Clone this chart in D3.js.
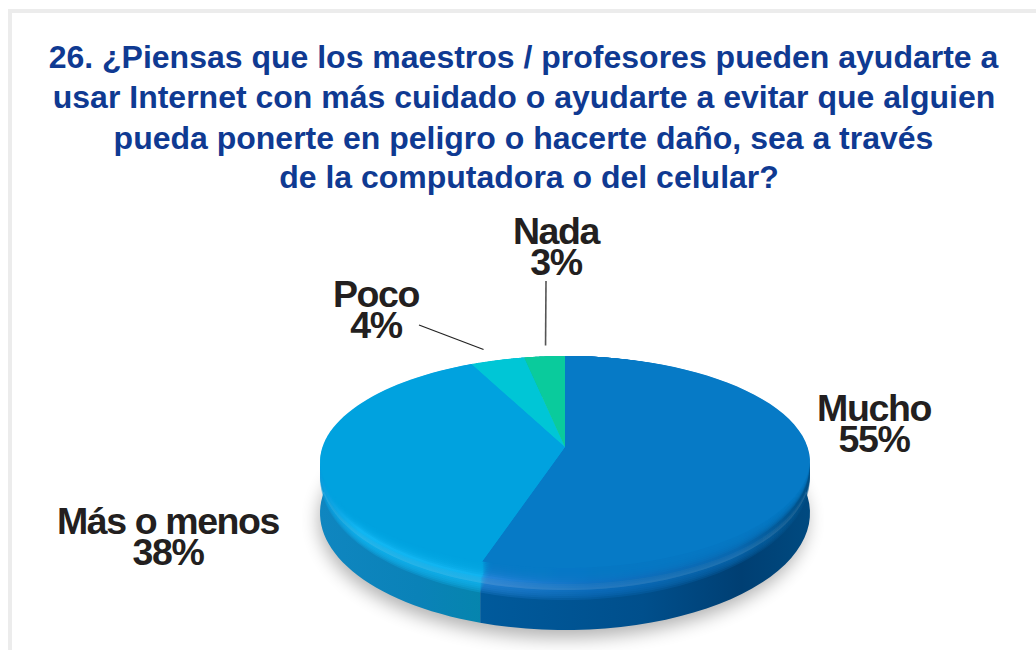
<!DOCTYPE html>
<html><head><meta charset="utf-8">
<script src="https://cdn.jsdelivr.net/npm/d3@7/dist/d3.min.js"></script>
<style>html,body{margin:0;padding:0;background:#fff;overflow:hidden}svg{display:block}</style>
</head><body><svg id="c" width="1036" height="650"></svg>
<script>
const categories = ["Mucho","Más o menos","Poco","Nada"];
const values = [55,38,4,3];
const titleLines = ["26. ¿Piensas que los maestros / profesores pueden ayudarte a","usar Internet con más cuidado o ayudarte a evitar que alguien","pueda ponerte en peligro o hacerte daño, sea a través","de la computadora o del celular?"];

const topColors  = ["#067ac6","#00a2df","#00c6d6","#0acb9c"];
const W=1036,H=650, cx=565, topY=356, botY=590, rx=245, apexY=447, depth=40, faceBot=574;
const labelPos = [
 {x:874,y:421},{x:168,y:534},{x:376,y:307},{x:556,y:244}];
const leaders = {2:{from:[419,325],dx:-14,dy:-11},3:{from:[546,281],dx:1,dy:-11}};

const svg=d3.select("#c");
const defs=svg.append("defs");
defs.append("filter").attr("id","bS").attr("x","-20%").attr("y","-30%").attr("width","140%").attr("height","160%")
  .attr("color-interpolation-filters","sRGB")
  .append("feGaussianBlur").attr("stdDeviation",9);
const grad=(id,stops)=>{const g=defs.append("linearGradient").attr("id",id).attr("gradientUnits","userSpaceOnUse")
  .attr("x1",320).attr("x2",810).attr("y1",0).attr("y2",0);
  stops.forEach(s=>g.append("stop").attr("offset",s[0]).attr("stop-color",s[1]));};
grad("side0",[[0,"#005c9e"],[0.33,"#005a9c"],[0.66,"#004f8c"],[0.86,"#003f73"],[1,"#004a80"]]);
grad("side1",[[0,"#0f86c0"],[0.2,"#0a82b8"],[0.34,"#0585ad"],[1,"#0585ad"]]);
grad("rim0",[[0.3,"#2a88dc"],[0.55,"#0f72c4"],[0.85,"#0868b0"],[1,"#004f86"]]);
grad("rim1",[[0,"#0a9cdc"],[0.08,"#10b6f2"],[0.33,"#12b4f0"],[1,"#12b4f0"]]);

const k=0.12, q=(botY-topY)/(1+(1-k)/(1+k)), b=q*(1-k), y0=botY-q, a=rx*Math.sqrt(1-k*k);
const rim=(t,bot=botY)=>{const u=Math.sin(t),v=-Math.cos(t),d=1-k*v;
  const s=(bot-topY)/(botY-topY);
  return [cx+a*u/d, topY+((y0+b*v/d)-topY)*s];};
const arcs=d3.pie().sort(null).value(d=>d)(values);
const line=d3.line();
const samples=(a0,a1)=>d3.range(0,61).map(i=>a0+(a1-a0)*i/60);
const sidePath=d=>{const ts=samples(d.startAngle,d.endAngle);
   const up=ts.map(t=>rim(t)), lo=ts.map(t=>{const p=rim(t);return [p[0],p[1]+depth];}).reverse();
   return line(up.concat(lo))+"Z";};
const wedgePath=(d,bot=botY,inset=0)=>line([[cx,apexY]].concat(samples(d.startAngle,d.endAngle).map(t=>{
    const p=rim(t,bot); const f=Math.max(0,(p[1]-y0)/(bot-y0));
    return [cx+(p[0]-cx)*(1-inset*f/rx),p[1]];})))+"Z";

// frame
const frame=svg.append("g").attr("fill","#ececec");
frame.append("rect").attr("x",8).attr("y",9).attr("width",W-8).attr("height",4);
frame.append("rect").attr("x",8).attr("y",9).attr("width",4).attr("height",H-9);

// shadow
svg.append("ellipse").attr("cx",cx-2).attr("cy",topY+(botY-topY)/2+depth+7).attr("rx",rx-1).attr("ry",(botY-topY)/2+1)
 .attr("fill","#000").attr("opacity",.3).attr("filter","url(#bS)");

const pie3d=svg.append("g");
// side wall
pie3d.append("g").selectAll("path").data(arcs).join("path")
 .attr("d",sidePath)
 .attr("fill",(d,i)=>i===0?"url(#side0)":"url(#side1)");
// solid top silhouette under the soft layers
pie3d.append("g").selectAll("path").data(arcs).join("path")
 .attr("d",d=>wedgePath(d,botY-6))
 .attr("fill",(d,i)=>i===0?"url(#rim0)":i===1?"url(#rim1)":topColors[i]);

// lit rim: stacked translucent layers fade from the wall into the bright edge
[10,8,6,4,2,0,-2,-4].forEach(off=>{
 pie3d.append("g").attr("opacity",.28).selectAll("path").data(arcs.slice(0,2)).join("path")
  .attr("d",d=>wedgePath(d,botY+off))
  .attr("fill",(d,i)=>i===0?"url(#rim0)":"url(#rim1)");
});
// flat face, same fading towards the rim
[8,6,4,2,0,-2,-4].forEach(off=>{
 pie3d.append("g").attr("opacity",.3).selectAll("path").data(arcs.slice(0,2)).join("path")
  .attr("d",d=>wedgePath(d,faceBot+off,6))
  .attr("fill",(d,i)=>topColors[i]);
});
pie3d.append("g").selectAll("path").data(arcs).join("path")
 .attr("d",d=>wedgePath(d,faceBot-6,6))
 .attr("fill",(d,i)=>topColors[i]);

// title
svg.append("g").selectAll("text").data(titleLines).join("text")
 .attr("x",(d,i)=>[523.5,524,523.5,529][i]).attr("y",(d,i)=>[68,108,149,188][i])
 .attr("text-anchor","middle").attr("font-family","Liberation Sans")
 .attr("font-weight",700).attr("font-size",32).attr("fill","#0f3a92").text(d=>d);

// labels
const lab=svg.append("g").selectAll("g").data(categories).join("g");
lab.append("text").attr("x",(d,i)=>labelPos[i].x).attr("y",(d,i)=>labelPos[i].y).text(d=>d);
lab.append("text").attr("x",(d,i)=>labelPos[i].x).attr("y",(d,i)=>labelPos[i].y+31).text((d,i)=>values[i]+"%");
lab.selectAll("text").attr("text-anchor","middle").attr("font-family","Liberation Sans").attr("font-weight",700)
 .attr("font-size",37.5).attr("letter-spacing",-1.4).attr("fill","#231f20");

// leaders
Object.keys(leaders).forEach(i=>{const L=leaders[i],d=arcs[i],p=rim((d.startAngle+d.endAngle)/2);
 svg.append("line").attr("x1",L.from[0]).attr("y1",L.from[1]).attr("x2",p[0]+L.dx).attr("y2",p[1]+L.dy)
  .attr("stroke",+i===3?"#555":"#222").attr("stroke-width",+i===3?1.6:1.2);});
</script></body></html>
